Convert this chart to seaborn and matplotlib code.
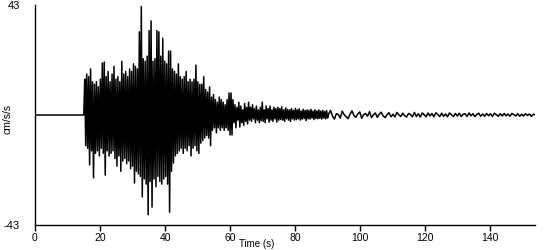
import numpy as np
import pandas as pd
import matplotlib
matplotlib.use("Agg")
import matplotlib.pyplot as plt
import seaborn as sns

# ---- data (acceleration, cm/s/s) ----
pre_event_time = [0.0, 15.0]
pre_event_accel = [0.0, 0.0]

strong_start, strong_dt = 15.3, 0.3
strong_accel = [
    14, -12, 16, -13, 15, -19.5, 18, -14, 13, -24.6,
    12, -15, 13, -14, 11, -16, 14, -13, 20.3, -15,
    20.7, -23.5, 15, -14, 17, -16, 13, -15, 16, -14,
    19, -17, 14, -20, 15, -16, 13, -22, 21, -18,
    16, -17, 17, -19, 15, -18, 18, -21, 17, -20,
    20, -26.6, 19, -22, 18, -23, 32.5, -24, 42.4, -32,
    22, -25, 21, -27, 23, -39, 33, -26, 36.8, -36,
    21, -25, 22, -28, 33, -24, 32.5, -26, 23, -27,
    30, -25, 21, -24, 20, -27, 25, -38, 25, -22,
    18, -18.8, 17, -16, 16, -15, 20, -14, 15, -13,
    14, -15, 15, -13, 17, -14, 13, -12, 14, -16,
    13, -13, 14, -12, 19.5, -14, 13, -15, 12, -11,
    12, -10, 15, -9, 10, -8, 9, -9, 11, -12,
    7, -6, 8, -5, 6, -7, 5, -5, 7, -6,
    6, -5, 5, -6, 4, -5, 6, -6, 8.6, -7.8,
]

early_coda_start, early_coda_dt = 60.3, 0.3
early_coda_accel = [
    8.6, -7.8, 6, -3, 4, -5, 3, -2, 5, -4.7,
    3.5, -3, 2, -4, 4.5, -2.5, 3, -3.5, 5, -2,
    3, -2.5, 4, -1.5, 2.5, -3, 3.5, -2, 2, -3,
    3, -2.2, 5, -2.5, 2, -3, 3.5, -1.5, 2.5, -2.8,
    3.5, -2, 2, -2.5, 3, -1.5, 2.5, -2.8, 3, -2,
    2.5, -1.8, 3.2, -2, 2, -2.5, 2.8, -1.5, 2.2, -2,
    2, -2.5, 2.5, -1.5, 1.8, -2, 2.6, -1.8, 2, -1.5,
    2.4, -2, 1.5, -1.6, 2.2, -1.4, 1.8, -2.2, 2, -1.5,
    1.8, -1.6, 2.2, -1.2, 1.5, -1.8, 2, -1.4, 1.6, -1.5,
    2, -1.3, 1.5, -1.6, 1.8, -1.2, 1.4, -1.5, 1.7, -1.2,
]

late_coda_start, late_coda_dt = 90.3, 0.6
late_coda_accel = [
    0.3, 1.8, -0.4, -1.6, 0.5, 0.2, -1.2, 1.5, 0.1, -0.6,
    -1.4, 0.3, 1.6, -0.2, -0.9, 0.4, 1.2, -1.3, 0.2, 0.6,
    -0.5, 1.3, -1.0, 0.1, 0.8, -0.9, 0.3, 1.1, -0.4, -1.0,
    0.2, 0.9, -0.7, 0.3, -0.8, 1.0, 0.1, -0.6, 0.7, -0.3,
    -0.8, 0.6, 0.2, -0.7, 1.0, -0.6, 0.5, -0.8, 0.8, 0.1,
    -0.7, 0.8, -0.4, 0.6, -0.7, 0.9, 0.2, -0.6, 0.7, -0.5,
    0.4, -0.7, 0.8, 0.1, -0.6, 0.6, -0.4, 0.7, -0.6, 0.3,
    0.5, -0.6, 0.8, -0.3, 0.5, -0.6, 0.2, 0.7, -0.5, 0.4,
    -0.5, 0.6, -0.3, 0.5, -0.6, 0.7, 0.1, -0.5, 0.5, -0.4,
    0.6, -0.3, 0.4, -0.5, 0.6, 0.1, -0.4, 0.5, -0.5, 0.3,
    -0.4, 0.5, -0.2, 0.4, -0.5, 0.3, 0.1,
]

x_ticks = [0, 20, 40, 60, 80, 100, 120, 140]
y_ticks = [-43, 43]
y_tick_labels = ["-43", "43"]
x_label = "Time (s)"
y_label = "cm/s/s"

# ---- assemble the trace (regular sampling times of the record) ----
strong_time = strong_start + strong_dt * np.arange(len(strong_accel))
early_time = early_coda_start + early_coda_dt * np.arange(len(early_coda_accel))
late_time = late_coda_start + late_coda_dt * np.arange(len(late_coda_accel))
df = pd.DataFrame({
    "time": np.concatenate([pre_event_time, strong_time, early_time, late_time]),
    "accel": np.concatenate([pre_event_accel, strong_accel,
                             early_coda_accel, late_coda_accel]),
})

sns.set_style("white")
plt.rcParams["font.family"] = ["Liberation Sans", "DejaVu Sans"]
plt.rcParams["text.color"] = "black"
plt.rcParams["xtick.color"] = "black"
plt.rcParams["ytick.color"] = "black"
plt.rcParams["axes.labelcolor"] = "black"

fig = plt.figure(figsize=(5.5, 2.5), dpi=100)
ax = fig.add_axes([35 / 550, 25 / 250, 500 / 550, 220 / 250])

sns.lineplot(data=df, x="time", y="accel", ax=ax, color="black",
             linewidth=1.1, estimator=None, sort=False)

ax.set_xlim(0, 153.8)
ax.set_ylim(-43, 43)
ax.set_xticks(x_ticks)
ax.set_yticks(y_ticks)
ax.set_yticklabels(y_tick_labels)

for side in ["top", "right"]:
    ax.spines[side].set_visible(False)
for side in ["left", "bottom"]:
    ax.spines[side].set_color("black")
    ax.spines[side].set_linewidth(1.0)

ax.tick_params(axis="x", direction="out", length=4, width=1, colors="black",
               labelsize=7.5, pad=1.5, bottom=True)
ax.tick_params(axis="y", length=0, labelsize=8, pad=10.8, left=True,
               colors="black")

ax.set_xlabel(x_label, fontsize=7, color="black")
ax.set_ylabel(y_label, fontsize=7.5, color="black")
ax.xaxis.set_label_coords(0.444, -0.064)
ax.yaxis.set_label_coords(-0.045, 0.48)
ax.grid(False)

fig.savefig("out.png", dpi=100, facecolor="white")
